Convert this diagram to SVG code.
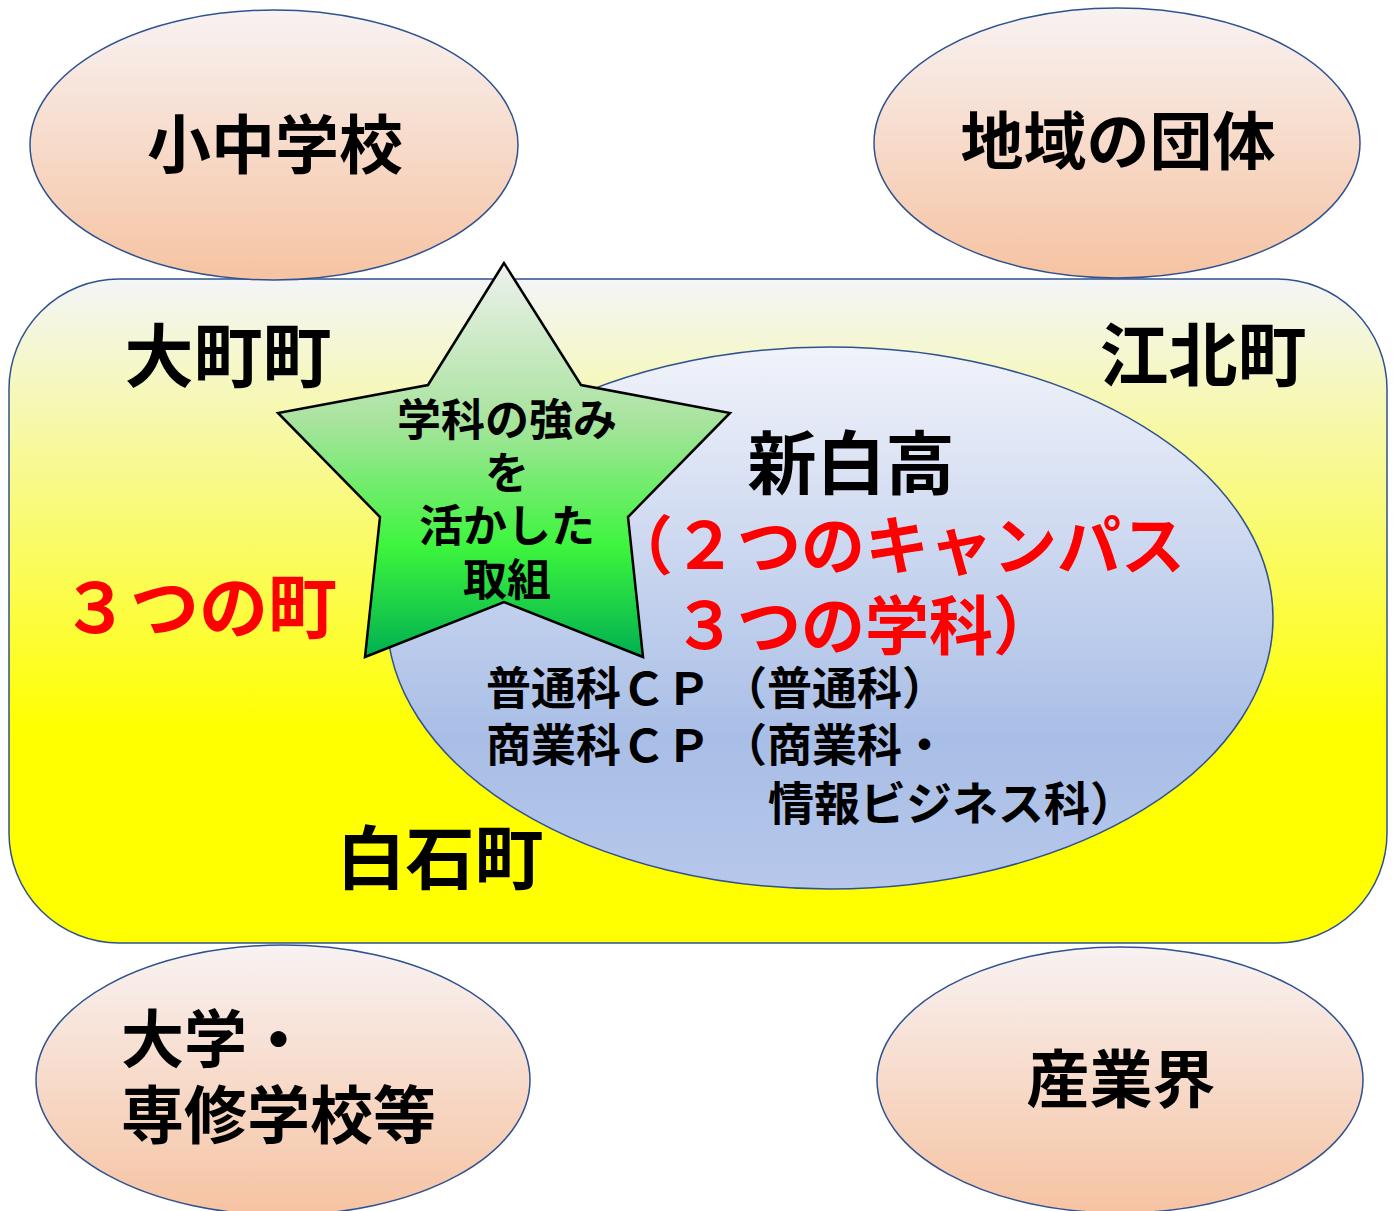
<svg xmlns="http://www.w3.org/2000/svg" width="1394" height="1211" viewBox="0 0 1394 1211">
<defs>
<linearGradient id="peach" x1="0" y1="0" x2="0" y2="1">
<stop offset="0" stop-color="#f8f2f2"/>
<stop offset="1" stop-color="#f6c3a2"/>
</linearGradient>
<linearGradient id="yellow" x1="0" y1="0" x2="0" y2="1">
<stop offset="0" stop-color="#f3f5f8"/>
<stop offset="0.68" stop-color="#ffff00"/>
<stop offset="1" stop-color="#ffff00"/>
</linearGradient>
<linearGradient id="blue" x1="0" y1="0" x2="0" y2="1">
<stop offset="0" stop-color="#f1f3fa"/>
<stop offset="0.72" stop-color="#a9bee6"/>
<stop offset="1" stop-color="#b6c7ea"/>
</linearGradient>
<linearGradient id="green" x1="0" y1="262" x2="0" y2="657" gradientUnits="userSpaceOnUse">
<stop offset="0" stop-color="#eef1ee"/>
<stop offset="0.4" stop-color="#a9e39f"/>
<stop offset="0.72" stop-color="#3df53d"/>
<stop offset="1" stop-color="#00b050"/>
</linearGradient>
</defs>
<style>
.sh{stroke:#2f528f;stroke-width:1.5}
.t{font-family:"Noto Sans CJK JP","Noto Sans CJK SC",sans-serif;font-weight:bold;fill:#000}
.r{fill:#ff0000}
</style>
<g id="towns">
<rect class="sh" x="9" y="279" width="1378" height="664" rx="110" ry="110" fill="url(#yellow)"/>
<text class="t" x="228" y="382" font-size="69" text-anchor="middle">大町町</text>
<text class="t" x="1203" y="381" font-size="69" text-anchor="middle">江北町</text>
<text class="t r" x="199" y="633" font-size="69" text-anchor="middle">３つの町</text>
<text class="t" x="440" y="884" font-size="69" text-anchor="middle">白石町</text>
</g>
<g id="school-top-left">
<ellipse class="sh" cx="274" cy="145" rx="244" ry="135" fill="url(#peach)"/>
<text class="t" x="275" y="168" font-size="64" text-anchor="middle">小中学校</text>
</g>
<g id="region-groups">
<ellipse class="sh" cx="1117" cy="143" rx="243" ry="135" fill="url(#peach)"/>
<text class="t" x="1118" y="164" font-size="63" text-anchor="middle">地域の団体</text>
</g>
<g id="university">
<ellipse class="sh" cx="283" cy="1080" rx="247" ry="135" fill="url(#peach)"/>
<text class="t" x="121" y="1062" font-size="63">大学・</text>
<text class="t" x="121" y="1138" font-size="63">専修学校等</text>
</g>
<g id="industry">
<ellipse class="sh" cx="1120" cy="1080" rx="243" ry="133" fill="url(#peach)"/>
<text class="t" x="1121" y="1102" font-size="63" text-anchor="middle">産業界</text>
</g>
<g id="shiroishi-high">
<ellipse class="sh" cx="830" cy="618" rx="443" ry="271" fill="url(#blue)"/>
<text class="t" x="851" y="489" font-size="69" text-anchor="middle">新白高</text>
<text class="t r" x="609" y="569" font-size="64">（２つのキャンパス</text>
<text class="t r" x="673" y="649" font-size="64">３つの学科）</text>
<text class="t" x="486" y="705" font-size="45">普通科ＣＰ<tspan x="722">（普通科）</tspan></text>
<text class="t" x="486" y="762" font-size="45">商業科ＣＰ<tspan x="722">（商業科・</tspan></text>
<text class="t" x="768" y="820" font-size="46">情報ビジネス科）</text>
</g>
<g id="star">
<polygon points="504,263 428,385 278,413 380,517 365,657 504,602 643,657 628,517 730,413 581,385" fill="url(#green)" stroke="#000" stroke-width="2.5" stroke-linejoin="miter"/>
<text class="t" x="507" y="436" font-size="44" text-anchor="middle">学科の強み</text>
<text class="t" x="507" y="489" font-size="44" text-anchor="middle">を</text>
<text class="t" x="507" y="542" font-size="44" text-anchor="middle">活かした</text>
<text class="t" x="507" y="596" font-size="44" text-anchor="middle">取組</text>
</g>
<g id="connectors"></g>
</svg>
